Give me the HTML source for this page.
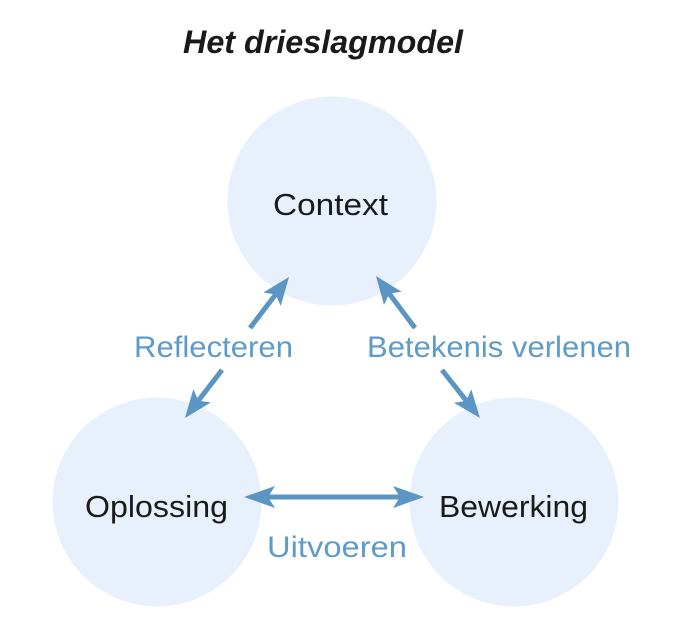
<!DOCTYPE html>
<html>
<head>
<meta charset="utf-8">
<style>
  html,body{margin:0;padding:0;background:#ffffff;}
  svg{display:block;}
  text{font-family:"Liberation Sans","DejaVu Sans",sans-serif;}
</style>
</head>
<body>
<svg width="673" height="633" viewBox="0 0 673 633" xmlns="http://www.w3.org/2000/svg">
  <rect width="673" height="633" fill="#ffffff"/>

  <!-- title -->
  <text x="183" y="53" font-size="32" font-weight="bold" font-style="italic" fill="#1a1a1a" textLength="280" lengthAdjust="spacingAndGlyphs">Het drieslagmodel</text>

  <!-- circles -->
  <circle cx="332" cy="201" r="104.5" fill="#e8f1fb"/>
  <circle cx="157" cy="502" r="104.5" fill="#e8f1fb"/>
  <circle cx="514" cy="502" r="104.5" fill="#e8f1fb"/>

  <!-- node labels -->
  <text x="273" y="215" font-size="31" fill="#1a1a1a" textLength="115" lengthAdjust="spacingAndGlyphs">Context</text>
  <text x="85" y="517" font-size="31" fill="#1a1a1a" textLength="143" lengthAdjust="spacingAndGlyphs">Oplossing</text>
  <text x="439" y="517" font-size="31" fill="#1a1a1a" textLength="149" lengthAdjust="spacingAndGlyphs">Bewerking</text>

  <!-- connector labels -->
  <text x="134" y="357" font-size="30" fill="#5e9bc9" textLength="159" lengthAdjust="spacingAndGlyphs">Reflecteren</text>
  <text x="367" y="357" font-size="30" fill="#5e9bc9" textLength="264" lengthAdjust="spacingAndGlyphs">Betekenis verlenen</text>
  <text x="267" y="557" font-size="30" fill="#5e9bc9" textLength="140" lengthAdjust="spacingAndGlyphs">Uitvoeren</text>

  <!-- arrows -->
  <g stroke="#5a95c4" stroke-width="5" fill="none">
    <line x1="250" y1="328" x2="276.85" y2="292.89"/>
    <line x1="222" y1="370" x2="197.21" y2="402.16"/>
    <line x1="415" y1="328" x2="388" y2="292"/>
    <line x1="442" y1="370" x2="467.58" y2="402.31"/>
    <line x1="262" y1="497" x2="406" y2="497"/>
  </g>
  <g fill="#5a95c4">
    <polygon points="289,277 280.73,305.92 275.63,294.48 263.25,292.56"/>
    <polygon points="185,418 210.80,402.54 198.43,400.57 193.38,389.10"/>
    <polygon points="376,276 401.6,291.8 389.2,293.6 384.0,305.0"/>
    <polygon points="480,418 453.98,402.87 466.34,400.75 471.24,389.21"/>
    <polygon points="244,497 275,486 268,497 275,508"/>
    <polygon points="424,497 393,486 400,497 393,508"/>
  </g>
</svg>
</body>
</html>
